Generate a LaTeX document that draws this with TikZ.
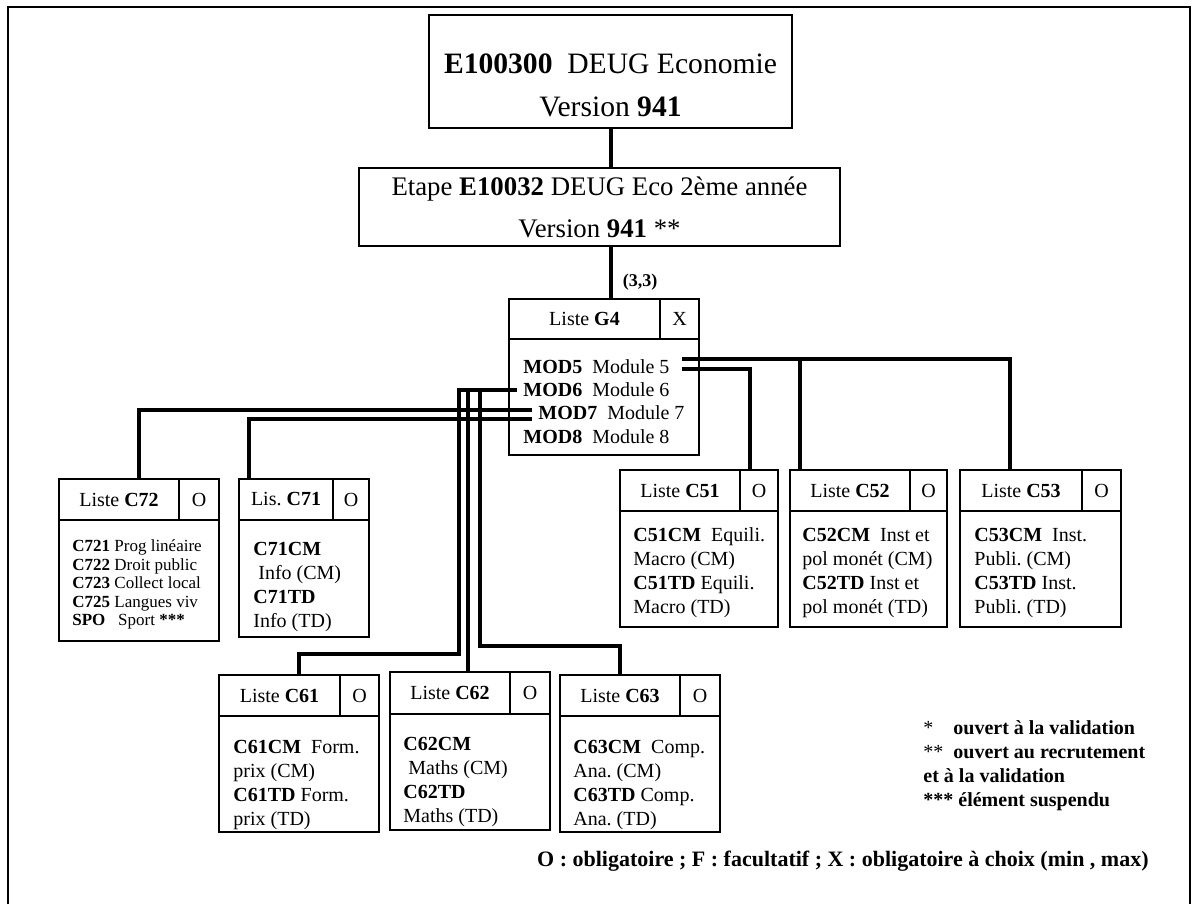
\documentclass[tikz,border=0pt]{standalone}
\usepackage{fontspec}
\setmainfont{Liberation Serif}
\usetikzlibrary{positioning}

\begin{document}
\frenchspacing
\begin{tikzpicture}[x=0.5pt, y=-0.5pt,
box/.style={draw, line width=0.6pt, outer sep=0pt},
top/.style={box, anchor=north west, inner sep=0pt, align=center, font=\fontsize{14}{21}\selectfont},
hd/.style={box, anchor=north west, minimum width=60pt, minimum height=20.5pt, inner sep=0pt, font=\fontsize{10}{12}\selectfont},
mk/.style={box, right=0pt of #1, minimum width=19.5pt, minimum height=20.5pt, inner sep=0pt, font=\fontsize{10}{12}\selectfont},
bd/.style={box, anchor=north west, minimum width=79.5pt, minimum height=58pt, inner sep=0pt},
tx/.style={anchor=west, inner sep=0pt, align=left, font=\fontsize{10}{12}\selectfont},
row/.style={anchor=west, inner sep=3pt, font=\fontsize{10}{12}\selectfont},
note/.style={inner sep=0pt, font=\bfseries\fontsize{10}{12}\selectfont},
link/.style={line width=2pt}]
\useasboundingbox (0,0) rectangle (1197,904);
\draw[line width=1pt] (8,904) -- (8,7) -- (1190,7) -- (1190,904);

\node[top, minimum width=181.5pt, minimum height=56.5pt] (e100300) at (429,15) {};
\node[inner sep=0pt, align=center, font=\fontsize{14.8}{21.5}\selectfont] (e100300t) at ([yshift=-7pt]e100300.center) {\textbf{E100300}\ \ DEUG Economie\\Version \textbf{941}};
\node[top, minimum width=240.5pt, minimum height=39pt, font=\fontsize{13.4}{21}\selectfont] (etape) at (359,168) {Etape \textbf{E10032} DEUG Eco 2ème année\\Version \textbf{941} **};
\node[inner sep=0pt, font=\bfseries\fontsize{9}{11}\selectfont] (card) at (640,282) {(3,3)};

\node[hd, minimum width=75.5pt, minimum height=20pt] (g4h) at (509,299) {Liste \textbf{G4}};
\node[mk=g4h, minimum height=20pt] (g4m) {X};
\node[bd, minimum width=95pt] (g4b) at (g4h.south west) {};
\node[row] (mod5) at (517,367) {\textbf{MOD5}\ \ Module 5};
\node[row] (mod6) at (517,390) {\textbf{MOD6}\ \ Module 6};
\node[row] (mod7) at (532,413) {\textbf{MOD7}\ \ Module 7};
\node[row] (mod8) at (517,437) {\textbf{MOD8}\ \ Module 8};

\node[hd] (c72h) at (59,479) {Liste \textbf{C72}};
\node[mk=c72h, minimum width=20pt] (c72m) {O};
\node[bd, minimum width=80pt, minimum height=60.5pt] (c72b) at (c72h.south west) {};
\node[tx, font=\fontsize{8.5}{9.25}\selectfont] (c72t) at ([shift={(6.5pt,-2pt)}]c72b.west) {\textbf{C721} Prog linéaire\\\textbf{C722} Droit public\\\textbf{C723} Collect local\\\textbf{C725} Langues viv\\\textbf{SPO}\ \ \ Sport \textbf{***}};

\node[hd, minimum width=47pt] (c71h) at (239,479) {Lis. \textbf{C71}};
\node[mk=c71h, minimum width=18pt] (c71m) {O};
\node[bd, minimum width=65pt, minimum height=58.5pt] (c71b) at (c71h.south west) {};
\node[tx] (c71t) at ([shift={(7pt,-4.25pt)}]c71b.west) {\textbf{C71CM}\\\ Info (CM)\\\textbf{C71TD}\\Info (TD)};

\node[hd] (c51h) at (620,470) {Liste \textbf{C51}};
\node[mk=c51h, minimum width=19pt] (c51m) {O};
\node[bd, minimum width=79pt] (c51b) at (c51h.south west) {};
\node[tx] (c51t) at ([shift={(6.5pt,-2pt)}]c51b.west) {\textbf{C51CM}\ \ Equili.\\Macro (CM)\\\textbf{C51TD} Equili.\\Macro (TD)};

\node[hd] (c52h) at (790,470) {Liste \textbf{C52}};
\node[mk=c52h, minimum width=18.5pt] (c52m) {O};
\node[bd, minimum width=78.5pt] (c52b) at (c52h.south west) {};
\node[tx] (c52t) at ([shift={(6pt,-2pt)}]c52b.west) {\textbf{C52CM}\ \ Inst et\\pol monét (CM)\\\textbf{C52TD} Inst et\\pol monét (TD)};

\node[hd, minimum width=61pt] (c53h) at (960,470) {Liste \textbf{C53}};
\node[mk=c53h] (c53m) {O};
\node[bd, minimum width=80.5pt] (c53b) at (c53h.south west) {};
\node[tx] (c53t) at ([shift={(7pt,-2pt)}]c53b.west) {\textbf{C53CM}\ \ Inst.\\Publi. (CM)\\\textbf{C53TD} Inst.\\Publi. (TD)};

\node[hd, minimum width=60.5pt] (c61h) at (219,675) {Liste \textbf{C61}};
\node[mk=c61h] (c61m) {O};
\node[bd, minimum width=80pt] (c61b) at (c61h.south west) {};
\node[tx] (c61t) at ([shift={(7pt,-5.5pt)}]c61b.west) {\textbf{C61CM}\ \ Form.\\prix (CM)\\\textbf{C61TD} Form.\\prix (TD)};

\node[hd, minimum height=21pt] (c62h) at (390,672) {Liste \textbf{C62}};
\node[mk=c62h, minimum width=20pt, minimum height=21pt] (c62m) {O};
\node[bd, minimum width=80pt] (c62b) at (c62h.south west) {};
\node[tx] (c62t) at ([shift={(6.5pt,-5pt)}]c62b.west) {\textbf{C62CM}\\\ Maths (CM)\\\textbf{C62TD}\\Maths (TD)};

\node[hd] (c63h) at (560,675) {Liste \textbf{C63}};
\node[mk=c63h, minimum width=20pt] (c63m) {O};
\node[bd, minimum width=80pt] (c63b) at (c63h.south west) {};
\node[tx] (c63t) at ([shift={(6.5pt,-5.5pt)}]c63b.west) {\textbf{C63CM}\ \ Comp.\\Ana. (CM)\\\textbf{C63TD} Comp.\\Ana. (TD)};

\node[note, anchor=north west, align=left] (legend) at (923,720) {\makebox[15pt][l]{\mdseries *}ouvert à la validation\\\makebox[15pt][l]{\mdseries **}ouvert au recrutement\\et à la validation\\*** élément suspendu};
\node[note, anchor=east, font=\bfseries\fontsize{11}{13}\selectfont] (key) at (1149,861) {O : obligatoire ; F : facultatif ; X : obligatoire à choix (min , max)};

\coordinate (m5up) at ([shift={(3pt,4pt)}]mod5.east);
\coordinate (m5lo) at ([shift={(3pt,-1pt)}]mod5.east);
\coordinate (c52in) at ([xshift=5pt]c52h.north west);
\coordinate (c62in) at ([xshift=-21pt]c62h.north east);

\draw[link] (e100300.south) -- (e100300.south |- etape.north);
\draw[link] (e100300.south |- etape.south) -- (e100300.south |- g4h.north);
\draw[link] (m5up) -| ([xshift=-5.5pt]c53h.north);
\draw[link] (c52in) -- (c52in |- m5up);
\draw[link] (m5lo) -| ([xshift=5pt]c51h.north east);
\draw[link] (mod6.west) -| ++(-29pt,-132pt) -| ([xshift=9.75pt]c61h.north);
\draw[link] (c62in) |- (mod6.west);
\draw[link] (c63h.north) |- ++(-70pt,14.5pt) |- (mod6.west);
\draw[link] ([yshift=1.5pt]mod7.west) -| ([xshift=10pt]c72h.north);
\draw[link] ([yshift=-3pt]mod7.west) -| ([xshift=5pt]c71h.north west);
\end{tikzpicture}
\end{document}
